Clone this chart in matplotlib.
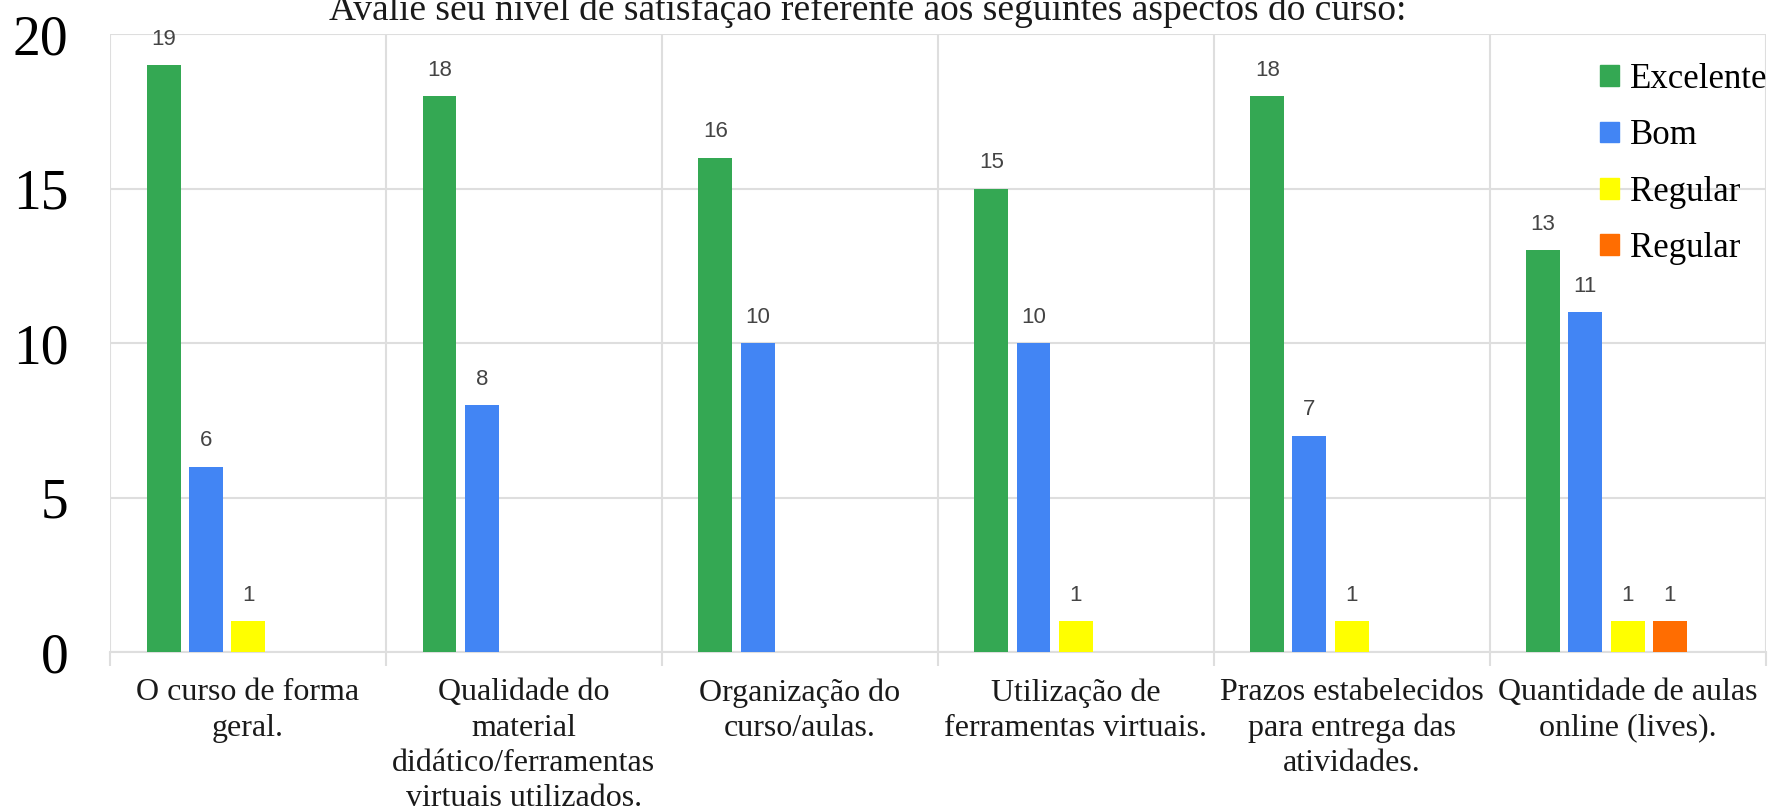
import numpy as np
import matplotlib
matplotlib.use("Agg")
import matplotlib.pyplot as plt
from matplotlib.patches import Patch

# Data
categories = [
    "O curso de forma\ngeral.",
    "Qualidade do\nmaterial\ndidático/ferramentas\nvirtuais utilizados.",
    "Organização do\ncurso/aulas.",
    "Utilização de\nferramentas virtuais.",
    "Prazos estabelecidos\npara entrega das\natividades.",
    "Quantidade de aulas\nonline (lives).",
]
series_names = ["Excelente", "Bom", "Regular", "Regular"]
excelente = [19, 18, 16, 15, 18, 13]
bom = [6, 8, 10, 10, 7, 11]
regular = [1, 0, 0, 1, 1, 1]
regular2 = [0, 0, 0, 0, 0, 1]
colors = ["#34A853", "#4285F4", "#FFFF00", "#FF6D01"]
title = "Avalie seu nível de satisfação referente aos seguintes aspectos do curso:"

serif = "Liberation Serif"
sans = "Liberation Sans"
grid_c = "#DEDEDE"

fig = plt.figure(figsize=(17.81, 8.11), dpi=100)
ax = fig.add_axes([0.0618, 0.196, 0.9295, 0.762])

x = np.arange(len(categories)) + 0.5
step = 0.153
width = 0.123
all_series = [excelente, bom, regular, regular2]
for k, vals in enumerate(all_series):
    # five slots per group (the chart leaves the last one empty)
    pos = x + (k - 2) * step
    bars = ax.bar(pos, vals, width=width, color=colors[k], zorder=3)
    labels = [str(v) if v else "" for v in vals]
    ax.bar_label(bars, labels=labels, padding=11, fontsize=16,
                 family=sans, color="#444444")

ax.set_xlim(0, len(categories))
ax.set_ylim(0, 20)

ax.set_yticks([0, 5, 10, 15, 20])
ax.tick_params(axis="y", length=0, pad=30, labelsize=40)
for lab in ax.get_yticklabels():
    lab.set_family(serif)

ax.set_xticks(x)
ax.set_xticklabels(categories, fontsize=23, family=serif, linespacing=1.28,
                   va="top", color="#1a1a1a")
ax.tick_params(axis="x", which="major", length=0, pad=19)
ax.set_xticks(np.arange(len(categories) + 1), minor=True)
ax.tick_params(axis="x", which="minor", length=10, width=1.5, color=grid_c)

ax.grid(axis="y", color=grid_c, linewidth=1.5, zorder=0)
ax.grid(axis="x", which="minor", color=grid_c, linewidth=1.5, zorder=0)
for s in ax.spines.values():
    s.set_visible(False)
ax.spines["bottom"].set_visible(True)
ax.spines["bottom"].set_color(grid_c)
ax.spines["bottom"].set_linewidth(1.5)

handles = [Patch(color=c) for c in colors]
fig.legend(handles, series_names, loc="upper left",
           bbox_to_anchor=(1600 / 1781, 1 - 63 / 811), frameon=False,
           prop={"family": serif, "size": 25}, handlelength=0.55,
           handleheight=0.55, handletextpad=0.3, labelspacing=0.67,
           borderaxespad=0, borderpad=0)

# the title is cut off at the top edge in the reference as well
fig.text(868 / 1781, 1 - 20 / 811, title, ha="center", va="baseline",
         fontsize=27, family=serif, color="#1a1a1a")

fig.savefig("out.png", dpi=100)
